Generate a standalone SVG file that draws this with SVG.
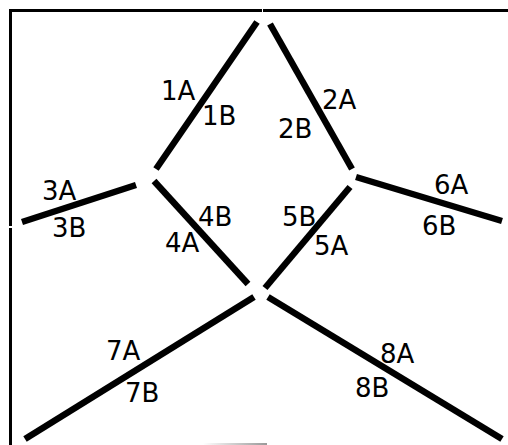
<svg xmlns="http://www.w3.org/2000/svg" width="508" height="445" viewBox="0 0 508 445">
<style>
.frame{stroke:#000;stroke-width:3;fill:none}
.seg{stroke:#000;stroke-width:6.5;fill:none;stroke-linecap:butt}
text{font-family:"DejaVu Sans",sans-serif;font-size:26px;fill:#000}
</style>
<defs>
<linearGradient id="g" x1="0" x2="1" y1="0" y2="0">
<stop offset="0" stop-color="#fff"/>
<stop offset="1" stop-color="#999"/>
</linearGradient>
</defs>
<rect width="508" height="445" fill="#fff"/>
<g id="frame">
<path class="frame" d="M10.5 226V10.5H262M263 10.5H508M10.5 228V445"/>
<rect x="203" y="443" width="64" height="2" fill="url(#g)"/>
</g>
<g id="connectors">
<g id="c1"><line class="seg" x1="257" y1="22" x2="156" y2="169"/><text x="161" y="100">1A</text><text x="202" y="125">1B</text></g>
<g id="c2"><line class="seg" x1="270" y1="24" x2="352" y2="169"/><text x="322" y="109">2A</text><text x="278" y="138">2B</text></g>
<g id="c3"><line class="seg" x1="22" y1="222" x2="136" y2="185"/><text x="42" y="200">3A</text><text x="52" y="237">3B</text></g>
<g id="c4"><line class="seg" x1="154" y1="181" x2="248" y2="284"/><text x="198" y="226">4B</text><text x="165" y="252">4A</text></g>
<g id="c5"><line class="seg" x1="350" y1="187" x2="265" y2="288"/><text x="282" y="226">5B</text><text x="314" y="255">5A</text></g>
<g id="c6"><line class="seg" x1="356" y1="177" x2="502" y2="221"/><text x="434" y="194">6A</text><text x="422" y="235">6B</text></g>
<g id="c7"><line class="seg" x1="254" y1="297" x2="25" y2="439"/><text x="106" y="360">7A</text><text x="125" y="402">7B</text></g>
<g id="c8"><line class="seg" x1="268" y1="297" x2="502" y2="439"/><text x="380" y="363">8A</text><text x="355" y="397">8B</text></g>
</g>
</svg>
